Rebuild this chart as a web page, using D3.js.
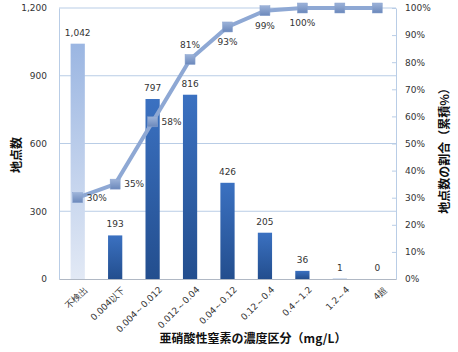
<!DOCTYPE html>
<html>
<head>
<meta charset="utf-8">
<script src="https://cdn.jsdelivr.net/npm/d3@7"></script>
<style>
  body { margin: 0; background: #fff; }
  svg text { font-family: "DejaVu Sans", Verdana, sans-serif; }
</style>
</head>
<body>
<div id="chart"></div>
<script>
// categories and values
const categories = ["不検出", "0.004以下", "0.004～0.012", "0.012～0.04", "0.04～0.12",
                    "0.12～0.4", "0.4～1.2", "1.2～4", "4超"];
const counts = [1042, 193, 797, 816, 426, 205, 36, 1, 0];
const cumPct = [30, 35, 58, 81, 93, 99, 100, 100, 100];
const countTicks = [0, 300, 600, 900, 1200];
const pctTicks = [0, 10, 20, 30, 40, 50, 60, 70, 80, 90, 100];
// where each % label sits relative to its marker (last two have none)
const pctLabelPos = ["right", "right", "right", "above", "below", "below", "below", null, null];

const margin = { top: 8, right: 62, bottom: 73, left: 59 },
    width = 458 - margin.left - margin.right,
    height = 352 - margin.top - margin.bottom;

const x = d3.scaleBand().domain(categories).range([0, width]).paddingInner(0.62).paddingOuter(0.31);
const y = d3.scaleLinear().domain([0, 1200]).range([height, 0]);
const y2 = d3.scaleLinear().domain([0, 100]).range([height, 0]);

const svg = d3.select("#chart").append("svg")
    .attr("width", 458)
    .attr("height", 352);

const defs = svg.append("defs");
const g1 = defs.append("linearGradient").attr("id", "barDark").attr("x1", 0).attr("y1", 0).attr("x2", 0).attr("y2", 1);
g1.append("stop").attr("offset", "0%").attr("stop-color", "#3b71c1");
g1.append("stop").attr("offset", "100%").attr("stop-color", "#234e8e");
const g2 = defs.append("linearGradient").attr("id", "barLight").attr("x1", 0).attr("y1", 0).attr("x2", 0).attr("y2", 1);
g2.append("stop").attr("offset", "0%").attr("stop-color", "#9bb6e2");
g2.append("stop").attr("offset", "100%").attr("stop-color", "#e2e9f5");
const g3 = defs.append("linearGradient").attr("id", "marker").attr("x1", 0).attr("y1", 0).attr("x2", 0).attr("y2", 1);
g3.append("stop").attr("offset", "0%").attr("stop-color", "#9db3d9");
g3.append("stop").attr("offset", "100%").attr("stop-color", "#6b88bb");

const chart = svg.append("g")
    .attr("transform", "translate(" + margin.left + "," + margin.top + ")");

// gridlines
chart.selectAll(".grid")
    .data(countTicks.slice(1))
    .enter().append("line")
    .attr("x1", 0).attr("x2", width)
    .attr("y1", d => y(d)).attr("y2", d => y(d))
    .attr("stroke", "#b9cde6")
    .attr("stroke-width", 1);

// left axis
const leftAxis = chart.append("g")
    .call(d3.axisLeft(y).tickValues(countTicks).tickFormat(d3.format(",")).tickSize(0).tickPadding(12));
leftAxis.select(".domain").attr("stroke", "#b9cde6");
leftAxis.selectAll("text").style("font-size", "9px").attr("fill", "#333");

// right axis
const rightAxis = chart.append("g")
    .attr("transform", "translate(" + width + ",0)")
    .call(d3.axisRight(y2).tickValues(pctTicks).tickFormat(d => d + "%").tickSize(0).tickPadding(9));
rightAxis.select(".domain").attr("stroke", "#b9cde6");
rightAxis.selectAll("text").style("font-size", "9px").attr("fill", "#333");
rightAxis.selectAll(".tick").append("line")
    .attr("x1", -4).attr("x2", 0)
    .attr("stroke", "#b9cde6");

// bars
chart.selectAll(".bar")
    .data(counts)
    .enter().append("rect")
    .attr("x", (d, i) => x(categories[i]))
    .attr("y", d => y(d))
    .attr("width", x.bandwidth())
    .attr("height", d => height - y(d))
    .attr("fill", (d, i) => i === 0 ? "url(#barLight)" : "url(#barDark)");

// bar labels
chart.selectAll(".barlabel")
    .data(counts)
    .enter().append("text")
    .attr("x", (d, i) => x(categories[i]) + x.bandwidth() / 2)
    .attr("y", d => y(d) - 8)
    .attr("text-anchor", "middle")
    .style("font-size", "9px")
    .attr("fill", "#333")
    .text(d3.format(","));

// bottom axis
const bottomAxis = chart.append("g")
    .attr("transform", "translate(0," + height + ")")
    .call(d3.axisBottom(x).tickSize(0).tickPadding(6));
bottomAxis.select(".domain").attr("stroke", "#b0b8c4");
bottomAxis.selectAll("text")
    .style("font-size", "9px")
    .attr("fill", "#333")
    .attr("text-anchor", "end")
    .attr("dy", "0.3em")
    .attr("transform", "translate(4,5) rotate(-45)");

// cumulative line
const cx = i => x(categories[i]) + x.bandwidth() / 2;
const line = d3.line().x((d, i) => cx(i)).y(d => y2(d));
chart.append("path")
    .datum(cumPct)
    .attr("fill", "none")
    .attr("stroke", "#8ea8d4")
    .attr("stroke-width", 4)
    .attr("d", line);

chart.selectAll(".mark")
    .data(cumPct)
    .enter().append("rect")
    .attr("x", (d, i) => cx(i) - 5)
    .attr("y", d => y2(d) - 5)
    .attr("width", 10)
    .attr("height", 10)
    .attr("fill", "url(#marker)")
    .attr("stroke", "#8aa3cf")
    .attr("stroke-width", 0.5);

chart.selectAll(".pctlabel")
    .data(cumPct)
    .enter().filter((d, i) => pctLabelPos[i] !== null).append("text")
    .attr("x", (d, i) => pctLabelPos[i] === "right" ? cx(i) + 9 : cx(i))
    .attr("y", (d, i) => pctLabelPos[i] === "right" ? y2(d) + 3 : pctLabelPos[i] === "above" ? y2(d) - 11 : y2(d) + 18)
    .attr("text-anchor", (d, i) => pctLabelPos[i] === "right" ? "start" : "middle")
    .style("font-size", "9px")
    .attr("fill", "#333")
    .text(d => d + "%");

// axis titles
svg.append("text")
    .attr("transform", "translate(21,155) rotate(-90)")
    .attr("text-anchor", "middle")
    .style("font-family", "'Noto Sans CJK JP', sans-serif")
    .style("font-size", "12px")
    .style("font-weight", "bold")
    .attr("fill", "#111")
    .text("地点数");

svg.append("text")
    .attr("transform", "translate(449,148) rotate(-90)")
    .attr("text-anchor", "middle")
    .style("font-family", "'Noto Sans CJK JP', sans-serif")
    .style("font-size", "12px")
    .style("font-weight", "bold")
    .attr("fill", "#111")
    .text("地点数の割合（累積%）");

svg.append("text")
    .attr("x", 253)
    .attr("y", 343)
    .attr("text-anchor", "middle")
    .style("font-family", "'Noto Sans CJK JP', sans-serif")
    .style("font-size", "12px")
    .style("font-weight", "bold")
    .attr("fill", "#111")
    .text("亜硝酸性窒素の濃度区分（mg/L）");
</script>
</body>
</html>
